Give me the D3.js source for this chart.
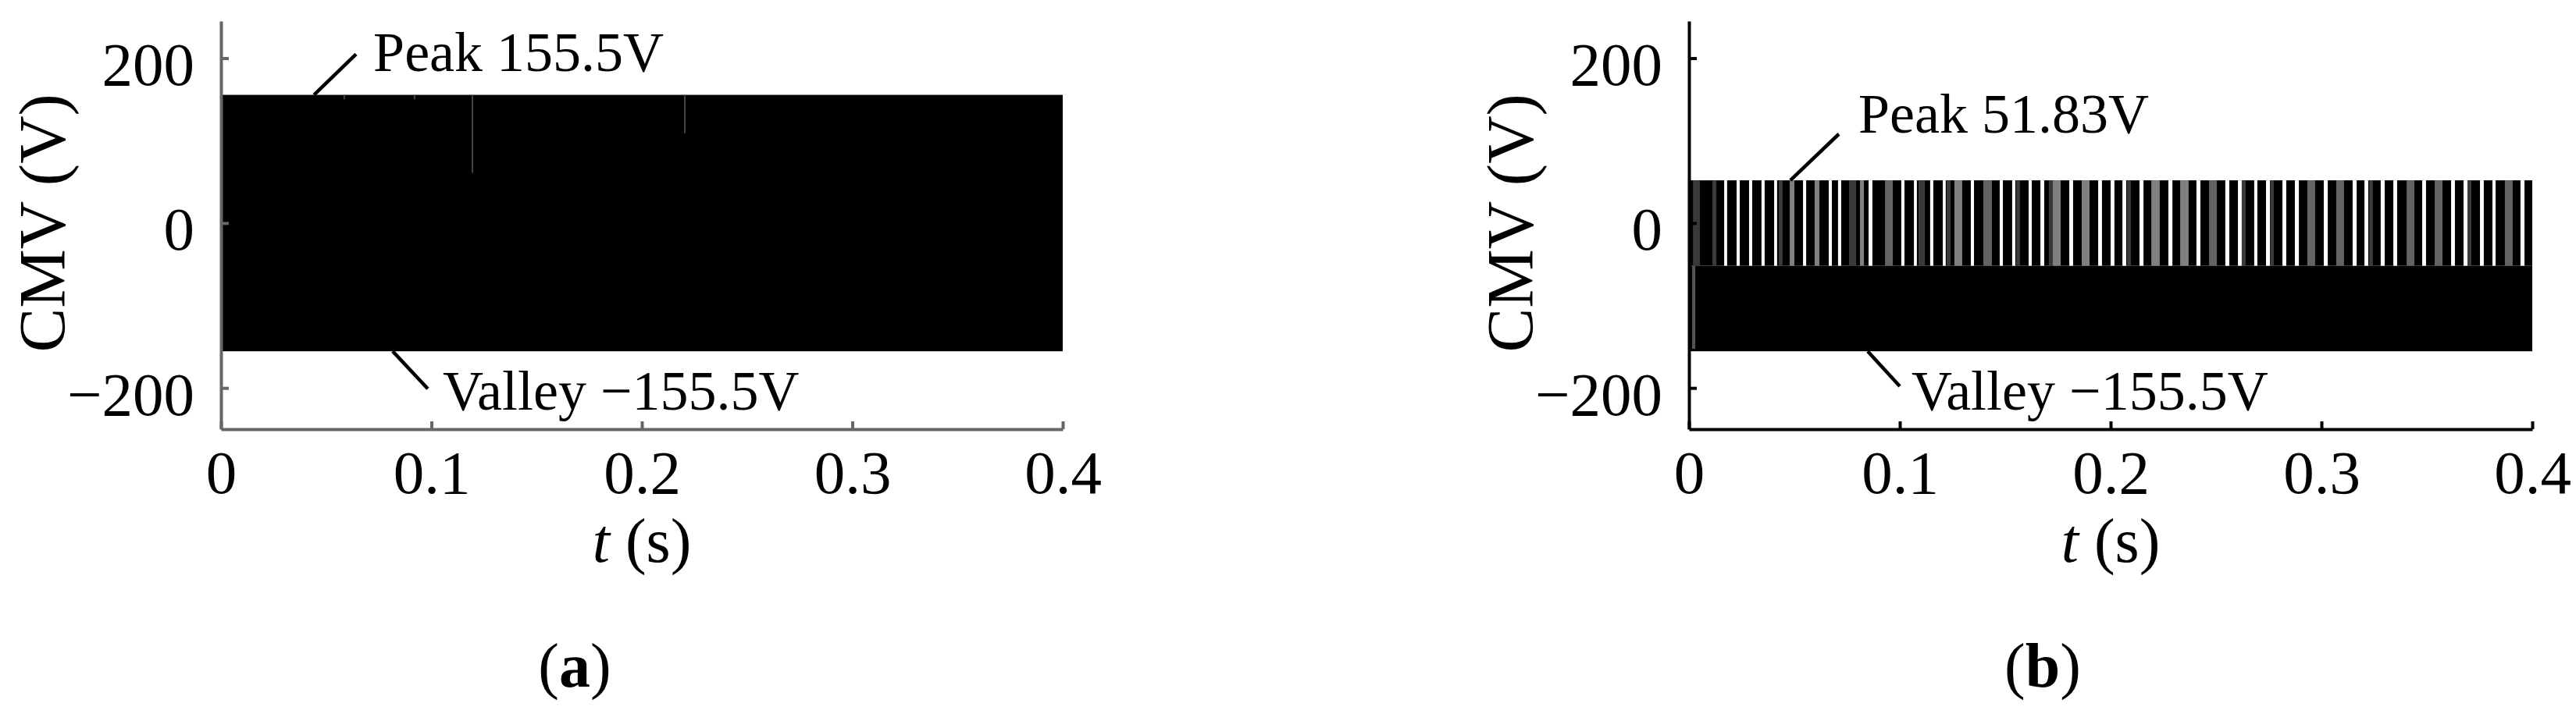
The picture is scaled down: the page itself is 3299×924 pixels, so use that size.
<!DOCTYPE html>
<html>
<head>
<meta charset="utf-8">
<script src="https://cdn.jsdelivr.net/npm/d3@7"></script>
<style>
  body { margin: 0; background: #fff; }
  text { font-family: "Liberation Serif", "Times New Roman", serif; fill: #000; }
</style>
</head>
<body>
<script>
// time axis + voltage axis
const xTicks = [0, 0.1, 0.2, 0.3, 0.4];
const yTicks = [-200, 0, 200];
const tSpan = [0, 0.4];

// panel (a): two-level CMV, fully black band
const peakA = 155.5, valleyA = -155.5;
const traceTimesA = [0.0586, 0.092, 0.1195, 0.2204];   // faint grey traces near the top
const traceLowA = [150, 150, 61, 109];

// panel (b): levels and the stripes seen in the upper band (seconds)
const peakB = 51.83, midB = -51.83, valleyB = -155.5;
const gapsB = [
  [0.0167,0.0181],[0.0226,0.0241],[0.0285,0.0300],[0.0344,0.0359],[0.0404,0.0418],
  [0.0541,0.0556],[0.0663,0.0678],[0.0707,0.0722],[0.0852,0.0870],[0.1007,0.1022],
  [0.1067,0.1081],[0.1144,0.1159],[0.1204,0.1218],[0.1337,0.1352],[0.1474,0.1489],
  [0.1533,0.1548],[0.1611,0.1626],[0.1667,0.1685],[0.1804,0.1822],[0.1941,0.1959],
  [0.2000,0.2018],[0.2056,0.2074],[0.2137,0.2156],[0.2274,0.2293],[0.2407,0.2426],
  [0.2544,0.2563],[0.2604,0.2622],[0.2681,0.2696],[0.2737,0.2756],[0.2815,0.2833],
  [0.2874,0.2893],[0.3011,0.3030],[0.3148,0.3167],[0.3204,0.3222],[0.3281,0.3300],
  [0.3341,0.3359],[0.3478,0.3496],[0.3615,0.3633],[0.3674,0.3693],[0.3752,0.3770],
  [0.3811,0.3826],[0.3944,0.3963]
];
const lightB = [
  [0.0478,0.0500],[0.0596,0.0619],[0.0811,0.0830],[0.1259,0.1296],
  [0.1726,0.1763],[0.1863,0.1900],[0.2193,0.2233],[0.2330,0.2370]
];
const midGreyB = [
  [0.0930,0.0967],[0.1396,0.1437],[0.2467,0.2504],[0.2933,0.2970],
  [0.3070,0.3107],[0.3404,0.3441],[0.3537,0.3574],[0.3870,0.3907]
];
const darkB = [
  [0.0019,0.0052],[0.0111,0.0130],[0.0426,0.0444],[0.0759,0.0793],[0.1089,0.1119],
  [0.1222,0.1241],[0.1552,0.1570],[0.1707,0.1726],[0.2078,0.2096],[0.2622,0.2641],
  [0.2759,0.2774],[0.3226,0.3244],[0.3693,0.3711]
];
const lowTraceB = [0.0015, 0.0030];   // grey trace in the lower band

// annotations: leader from (t0,v0) to (t1,v1), text at (tt,vt)
const notesA = [
  {label: "Peak 155.5V", t0: 0.0442, v0: peakA, t1: 0.0642, v1: 205, tt: 0.0724, vt: 184},
  {label: "Valley \u2212155.5V", t0: 0.0816, v0: valleyA, t1: 0.0983, v1: -201, tt: 0.1054, vt: -226}
];
const notesB = [
  {label: "Peak 51.83V", t0: 0.0481, v0: peakB, t1: 0.0711, v1: 108, tt: 0.0804, vt: 110},
  {label: "Valley \u2212155.5V", t0: 0.0848, v0: valleyB, t1: 0.1000, v1: -198, tt: 0.1056, vt: -226}
];

const W = 3299, H = 924;
const svg = d3.select("body").append("svg")
  .attr("width", W).attr("height", H);

const y = d3.scaleLinear().domain([-250, 245]).range([550, 27]);
const xA = d3.scaleLinear().domain(tSpan).range([283, 1361]);
const xB = d3.scaleLinear().domain(tSpan).range([2163, 3243]);

function band(g, x, v0, v1, color){
  g.append("rect")
    .attr("x", x(tSpan[0])).attr("width", x(tSpan[1]) - x(tSpan[0]))
    .attr("y", y(v0)).attr("height", y(v1) - y(v0))
    .attr("fill", color);
}

function stripes(g, x, data, v0, v1, color){
  g.selectAll(null).data(data).enter().append("rect")
    .attr("x", d => x(d[0]))
    .attr("width", d => x(d[1]) - x(d[0]))
    .attr("y", y(v0)).attr("height", y(v1) - y(v0))
    .attr("fill", color);
}

function axes(g, x, color, label){
  const ax = g.append("g").attr("transform", "translate(0,550)")
    .call(d3.axisBottom(x).tickValues(xTicks).tickFormat(d3.format("~g"))
      .tickSize(-10).tickSizeOuter(0).tickPadding(26));
  const ay = g.append("g").attr("transform", "translate(" + x(0) + ",0)")
    .call(d3.axisLeft(y).tickValues(yTicks).tickSize(-10).tickSizeOuter(0).tickPadding(34));
  [ax, ay].forEach(a => {
    a.select(".domain").attr("stroke", color).attr("stroke-width", 4);
    a.selectAll(".tick line").attr("stroke", color).attr("stroke-width", 4);
    a.selectAll("text").attr("font-size", 79).attr("fill", "#000")
      .style("font-family", "Liberation Serif");
  });
  ay.selectAll("text").attr("dy", "0.43em");

  const cx = (x.range()[0] + x.range()[1]) / 2;
  // y title
  g.append("text")
    .attr("transform", "translate(" + (x(0) - 200) + "," + y(0) + ") rotate(-90)")
    .attr("text-anchor", "middle").attr("font-size", 85)
    .text("CMV (V)");
  // x title
  const xt = g.append("text").attr("x", cx).attr("y", 720)
    .attr("text-anchor", "middle").attr("font-size", 80);
  xt.append("tspan").attr("font-style", "italic").text("t");
  xt.append("tspan").text(" (s)");
  // panel label
  const pl = g.append("text").attr("x", x(0) + 453).attr("y", 880)
    .attr("text-anchor", "middle").attr("font-size", 80);
  pl.append("tspan").text("(");
  pl.append("tspan").attr("font-weight", "bold").text(label);
  pl.append("tspan").text(")");
}

function notes(g, x, data){
  g.selectAll(null).data(data).enter().append("line")
    .attr("x1", d => x(d.t0)).attr("y1", d => y(d.v0))
    .attr("x2", d => x(d.t1)).attr("y2", d => y(d.v1))
    .attr("stroke", "#000").attr("stroke-width", 4.5);
  g.selectAll(null).data(data).enter().append("text")
    .attr("x", d => x(d.tt)).attr("y", d => y(d.vt))
    .attr("font-size", 72)
    .text(d => d.label);
}

// panel (a)
const gA = svg.append("g");
band(gA, xA, peakA, valleyA, "#000");
gA.selectAll(null).data(traceTimesA).enter().append("line")
  .attr("x1", d => xA(d)).attr("x2", d => xA(d))
  .attr("y1", y(peakA)).attr("y2", (d, i) => y(traceLowA[i]))
  .attr("stroke", "#444").attr("stroke-width", 2);
axes(gA, xA, "#666", "a");
notes(gA, xA, notesA);

// panel (b)
const gB = svg.append("g");
band(gB, xB, peakB, midB, "#000");
band(gB, xB, midB, valleyB, "#000");
stripes(gB, xB, gapsB, peakB, midB, "#fff");
stripes(gB, xB, lightB, peakB, midB, "#808080");
stripes(gB, xB, midGreyB, peakB, midB, "#636363");
stripes(gB, xB, darkB, peakB, midB, "#3a3a3a");
stripes(gB, xB, [lowTraceB], midB, valleyB + 3, "#555");
axes(gB, xB, "#000", "b");
notes(gB, xB, notesB);
</script>
</body>
</html>
